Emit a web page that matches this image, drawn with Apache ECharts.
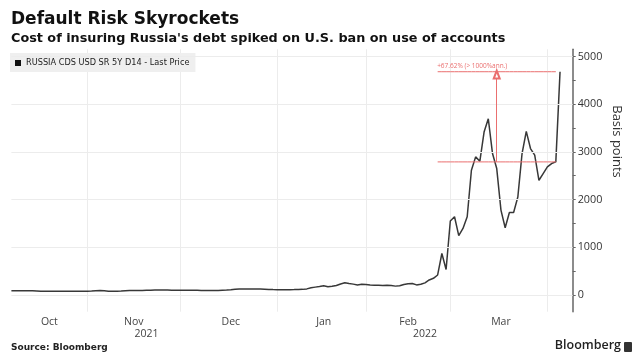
<!DOCTYPE html>
<html><head><meta charset="utf-8">
<script src="https://cdn.jsdelivr.net/npm/echarts@6/dist/echarts.min.js"></script>
<style>html,body{margin:0;padding:0;background:#fff}#c{width:639px;height:361px}</style>
</head><body><div id="c"></div>
<script>
// ---- data ----
const firstDate = '2021-10-06';   // first business day shown
const axisEndDate = '2022-04-11'; // axis runs a few business days past the last print
const seriesName = 'RUSSIA CDS USD SR 5Y D14 - Last Price';
// one value per business day, Oct 6 2021 .. Apr 6 2022 (basis points)
const cdsValues = [
  90, 90, 91, 90, 89, 88, 84, 80, 79, 79,
  78, 78, 79, 78, 79, 79, 80, 79, 80, 84,
  90, 95, 88, 81, 80, 80, 84, 90, 94, 95,
  96, 96, 98, 100, 104, 106, 106, 104, 102, 100,
  100, 101, 100, 99, 97, 94, 92, 92, 93, 96,
  100, 104, 112, 122, 127, 128, 128, 127, 128, 126,
  122, 116, 113, 112, 112, 111, 112, 113, 115, 118,
  128, 150, 165, 178, 192, 172, 182, 200, 232, 255,
  240, 228, 210, 225, 218, 210, 205, 203, 200, 202,
  200, 186, 195, 222, 235, 240, 212, 225, 255, 315,
  350, 420, 870, 535, 1550, 1640, 1245, 1395, 1640, 2615,
  2895, 2805, 3415, 3695, 2965, 2650, 1780, 1410, 1730, 1730,
  2055, 2965, 3430, 3070, 2930, 2405, 2545, 2685, 2755, 2790,
  4680
];
const yTickValues = [0, 1000, 2000, 3000, 4000, 5000];
const yMinorTickValues = [500, 1500, 2500, 3500, 4500];
const monthNames = ['Jan','Feb','Mar','Apr','May','Jun','Jul','Aug','Sep','Oct','Nov','Dec'];
const annotationFromIdx = 101, annotationToIdx = 129, annotationArrowIdx = 115;
const annotationText = '+67.62% (> 1000%ann.)';

// ---- categories: business days ----
function businessDays(a, b) {
  const out = [];
  const d = new Date(a + 'T00:00:00Z'), end = new Date(b + 'T00:00:00Z');
  while (d <= end) {
    const wd = d.getUTCDay();
    if (wd !== 0 && wd !== 6) out.push(d.toISOString().slice(0, 10));
    d.setUTCDate(d.getUTCDate() + 1);
  }
  return out;
}
const days = businessDays(firstDate, axisEndDate);
const n = days.length;

// month boundaries / label positions
const monthStarts = [];
for (let i = 1; i < n; i++) if (days[i].slice(0, 7) !== days[i - 1].slice(0, 7)) monthStarts.push(i);
const segs = [0, ...monthStarts, n];
const monthLabelIdx = {};
for (let k = 0; k < segs.length - 1; k++) {
  const s = segs[k], e = segs[k + 1];
  if (e - s >= 10) monthLabelIdx[Math.ceil((s + e) / 2)] = monthNames[+days[s].slice(5, 7) - 1];
}
const yearStarts = [0];
for (let i = 1; i < n; i++) if (days[i].slice(0, 4) !== days[i - 1].slice(0, 4)) yearStarts.push(i);
yearStarts.push(n);
const yearLabelIdx = {};
for (let k = 0; k < yearStarts.length - 1; k++) {
  const s = yearStarts[k], e = yearStarts[k + 1] - (k === yearStarts.length - 2 ? 1 : 0);
  yearLabelIdx[Math.ceil((s + e) / 2)] = days[s].slice(0, 4);
}
const monthStartSet = new Set(monthStarts);

const startVal = cdsValues[annotationToIdx];
const endVal = cdsValues[cdsValues.length - 1];
const red = '#ea6f6f';
const redLine = {color: red, width: 1, type: 'solid'};

// horizontal annotation levels as line series spanning the annotation range
function levelData(level) {
  return days.map((d, i) => (i >= annotationFromIdx && i <= annotationToIdx) ? level : null);
}
function levelSeries(name, level, extra) {
  return Object.assign({
    name, type: 'line', data: levelData(level), showSymbol: false, silent: true, z: 4,
    connectNulls: false, lineStyle: {color: red, width: 1}, itemStyle: {color: red}
  }, extra || {});
}

const chart = echarts.init(document.getElementById('c'), null, {renderer: 'canvas'});
chart.setOption({
  animation: false,
  backgroundColor: '#ffffff',
  grid: {left: 11.4, right: 66.3, top: 49.3, bottom: 49.3, containLabel: false},
  legend: {
    data: [seriesName], left: 10, top: 53, padding: [6, 6, 5, 5],
    backgroundColor: '#efefef', icon: 'rect', itemWidth: 6, itemHeight: 6,
    textStyle: {fontFamily: 'DejaVu Sans', fontSize: 8.2, color: '#222'},
    selectedMode: false
  },
  xAxis: [{
    type: 'category', data: days, boundaryGap: false, position: 'bottom',
    axisLine: {show: false}, axisTick: {show: false},
    axisLabel: {
      interval: (i) => monthLabelIdx[i] !== undefined,
      formatter: (v, i) => monthLabelIdx[i] || '',
      color: '#444', fontFamily: 'Open Sans', fontSize: 10.5, margin: 5
    },
    splitLine: {show: true, interval: (i) => monthStartSet.has(i), lineStyle: {color: '#ececec', width: 1}}
  }, {
    type: 'category', data: days, boundaryGap: false, position: 'bottom', offset: 12,
    axisLine: {show: false}, axisTick: {show: false}, splitLine: {show: false},
    axisLabel: {
      interval: (i) => yearLabelIdx[i] !== undefined,
      formatter: (v, i) => yearLabelIdx[i] || '',
      color: '#444', fontFamily: 'Open Sans', fontSize: 10.5, margin: 5
    }
  }],
  yAxis: {
    type: 'value', position: 'right', min: -350, max: 5150,
    axisLine: {show: true, lineStyle: {color: '#666', width: 1.5}},
    axisTick: {show: true, customValues: yTickValues.concat(yMinorTickValues), length: 3, inside: false, lineStyle: {color: '#666'}},
    axisLabel: {customValues: yTickValues, formatter: (v) => String(v), color: '#333', fontFamily: 'Open Sans', fontSize: 10.8, margin: 5},
    splitLine: {show: false}
  },
  series: [{
    name: 'grid', type: 'line', data: [], z: 1, silent: true,
    markLine: {
      silent: true, symbol: ['none', 'none'], label: {show: false},
      lineStyle: {color: '#ececec', width: 1, type: 'solid'},
      data: yTickValues.map(v => ({yAxis: v}))
    }
  }, {
    name: 'arrow', type: 'line', data: cdsValues, showSymbol: false, silent: true, z: 2,
    lineStyle: {opacity: 0}, itemStyle: {color: red},
    markLine: {
      silent: true, symbol: ['none', 'emptyTriangle'], symbolSize: [6, 8],
      lineStyle: redLine, itemStyle: {color: red}, label: {show: false},
      data: [[{coord: [days[annotationArrowIdx], startVal]}, {coord: [days[annotationArrowIdx], endVal - 60]}]]
    }
  },
  levelSeries('levelLow', startVal),
  levelSeries('levelHigh', endVal, {
    markPoint: {
      silent: true, symbol: 'rect', symbolSize: 1, itemStyle: {color: 'rgba(0,0,0,0)'},
      label: {show: true, position: [0, -9], formatter: annotationText, color: red,
              fontFamily: 'Open Sans', fontSize: 6.5},
      data: [{coord: [days[annotationFromIdx], endVal]}]
    }
  }),
  {
    name: seriesName, type: 'line', data: cdsValues, showSymbol: false, z: 3,
    lineStyle: {color: '#383838', width: 1.5}, itemStyle: {color: '#111'}
  }],
  graphic: [
    {type: 'text', left: 11, top: 11, style: {text: 'Default Risk Skyrockets', font: 'bold 17px "DejaVu Sans"', fill: '#111'}},
    {type: 'text', left: 11, top: 32, style: {text: "Cost of insuring Russia's debt spiked on U.S. ban on use of accounts", font: 'bold 12.8px "DejaVu Sans"', fill: '#111'}},
    {type: 'text', x: 617, y: 141.5, rotation: -Math.PI / 2,
     style: {text: 'Basis points', font: '13px "Open Sans"', fill: '#333', align: 'center', verticalAlign: 'middle'}},
    {type: 'text', left: 11, top: 343, style: {text: 'Source: Bloomberg', font: 'bold 9px "DejaVu Sans"', fill: '#222'}},
    {type: 'text', right: 18, top: 339, style: {text: 'Bloomberg', font: '600 12.5px "Open Sans"', fill: '#222'}},
    {type: 'rect', right: 7, top: 342, shape: {width: 8, height: 10, r: 1}, style: {fill: '#333'}}
  ]
});
</script></body></html>
